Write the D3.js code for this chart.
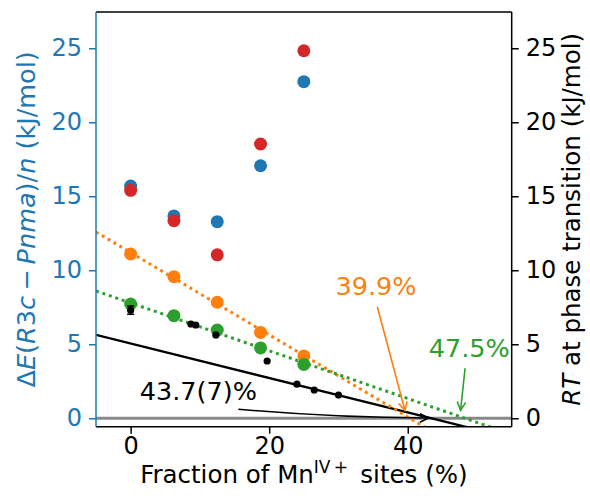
<!DOCTYPE html>
<html><head><meta charset="utf-8">
<script src="https://cdn.jsdelivr.net/npm/d3@7"></script>
<style>body{margin:0;background:#fff} svg{display:block} text{font-family:"DejaVu Sans",sans-serif}</style>
</head><body><svg id="c" width="590" height="498"></svg>
<script>
// ---- data ----
const sites = [0, 6.25, 12.5, 18.75, 25];
const blueVals = [15.69, 13.67, 13.28, 17.06, 22.74];
const redVals = [15.40, 13.35, 11.04, 18.53, 24.83];
const orangeVals = [11.10, 9.57, 7.84, 5.80, 4.21];
const greenVals = [7.72, 6.93, 5.96, 4.75, 3.64];
const rtX = [0, 8.7, 9.4, 12.3, 19.7, 24.0, 26.5, 30.0];
const rtVals = [7.30, 6.37, 6.30, 5.63, 3.87, 2.30, 1.91, 1.57];
const rtErr = [0.28, 0, 0, 0, 0, 0, 0, 0];
const fitX = [-5, 55];
const blackFit = [5.63, -1.35];
const orangeFit = [12.59, -4.09];
const greenFit = [8.60, -1.09];
const xTicks = [0, 20, 40];
const yTicks = [0, 5, 10, 15, 20, 25];
const annoLabels = ["39.9%", "47.5%", "43.7(7)%"];
const annoTextPos = [[35.42, 8.33], [48.87, 4.14], [9.77, 1.24]];
const annoStart = [[35.6, 7.54], [48.27, 3.38], [15.55, 0.61]];
const annoTarget = [[39.9, 0], [47.5, 0], [43.7, 0]];

// ---- layout ----
const C = {blue:"#1f77b4", orange:"#ff7f0e", green:"#2ca02c", red:"#d62728"};
const L = 96, R = 511.7, T = 12, B = 426.7;
const svg = d3.select("#c");
const x = d3.scaleLinear().domain([-5, 55]).range([L, R]);
const y = d3.scaleLinear().domain([-0.57, 27.45]).range([B, T]);

svg.append("defs").append("clipPath").attr("id","clip")
  .append("rect").attr("x",L).attr("y",T).attr("width",R-L).attr("height",B-T);
const plot = svg.append("g").attr("clip-path","url(#clip)");

// zero line
plot.append("line").attr("x1",L).attr("x2",R).attr("y1",y(0)).attr("y2",y(0))
  .attr("stroke","#888").attr("stroke-width",3);

// fit lines
const lineGen = d3.line().x(d=>x(d[0])).y(d=>y(d[1]));
function fit(vals){ return fitX.map((v,i)=>[v, vals[i]]); }
plot.append("path").attr("d", lineGen(fit(blackFit))).attr("fill","none")
  .attr("stroke","#000").attr("stroke-width",2.3);
plot.append("path").attr("d", lineGen(fit(orangeFit))).attr("fill","none")
  .attr("stroke",C.orange).attr("stroke-width",3).attr("stroke-dasharray","3 3.8");
plot.append("path").attr("d", lineGen(fit(greenFit))).attr("fill","none")
  .attr("stroke",C.green).attr("stroke-width",3).attr("stroke-dasharray","3 3.8");

// scatter
function dots(vals, col, r){
  plot.append("g").selectAll("circle").data(vals).join("circle")
    .attr("cx",(d,i)=>x(sites[i])).attr("cy",d=>y(d)).attr("r",r).attr("fill",col);
}
dots(blueVals, C.blue, 6.5);
dots(redVals, C.red, 6.5);
dots(orangeVals, C.orange, 6.5);
dots(greenVals, C.green, 6.5);

// black RT points with error bars
const rt = plot.append("g");
rtVals.forEach((v,i)=>{
  if (rtErr[i] > 0){
    const g = rt.append("g").attr("stroke","#000").attr("stroke-width",1.5);
    g.append("line").attr("x1",x(rtX[i])).attr("x2",x(rtX[i])).attr("y1",y(v-rtErr[i])).attr("y2",y(v+rtErr[i]));
    [v-rtErr[i], v+rtErr[i]].forEach(e=>g.append("line").attr("x1",x(rtX[i])-3.5).attr("x2",x(rtX[i])+3.5).attr("y1",y(e)).attr("y2",y(e)));
  }
});
rt.selectAll("circle").data(rtVals).join("circle")
  .attr("cx",(d,i)=>x(rtX[i])).attr("cy",d=>y(d)).attr("r",3.6).attr("fill","#000");

// annotations
const annoColors = [C.orange, C.green, "#000"];
function head(g, tx, ty, ang, col){
  const Lh = 9.5, a = 27*Math.PI/180;
  const p1 = [tx - Lh*Math.cos(ang-a), ty - Lh*Math.sin(ang-a)];
  const p2 = [tx - Lh*Math.cos(ang+a), ty - Lh*Math.sin(ang+a)];
  g.append("path").attr("d",`M${p1[0]},${p1[1]}L${tx},${ty}L${p2[0]},${p2[1]}`)
    .attr("fill","none").attr("stroke",col).attr("stroke-width",1.6);
}
annoLabels.forEach((lab,i)=>{
  const col = annoColors[i];
  const g = svg.append("g");
  g.append("text").attr("x",x(annoTextPos[i][0])).attr("y",y(annoTextPos[i][1]))
    .attr("text-anchor","middle").attr("font-size",25.5).attr("fill",col).text(lab);
  const sx = x(annoStart[i][0]), sy = y(annoStart[i][1]);
  const tx0 = x(annoTarget[i][0]), ty0 = y(annoTarget[i][1]);
  if (i < 2){
    const ang = Math.atan2(ty0-sy, tx0-sx);
    const tx = tx0 - 8*Math.cos(ang), ty = ty0 - 8*Math.sin(ang);
    g.append("line").attr("x1",sx).attr("y1",sy).attr("x2",tx).attr("y2",ty)
      .attr("stroke",col).attr("stroke-width",1.6);
    head(g, tx, ty, ang, col);
  } else {
    const ang0 = Math.atan2(ty0-sy, tx0-sx);
    const tx = tx0 - 5*Math.cos(ang0), ty = ty0 - 5*Math.sin(ang0);
    const mx = (sx+tx)/2, my = (sy+ty)/2;
    const dx = tx-sx, dy = ty-sy, len = Math.hypot(dx,dy);
    const cx = mx - dy/len*(-4), cy = my + dx/len*4;
    g.append("path").attr("d",`M${sx},${sy}Q${cx},${cy} ${tx},${ty}`)
      .attr("fill","none").attr("stroke",col).attr("stroke-width",1.6);
    head(g, tx, ty, Math.atan2(ty-cy, tx-cx), col);
  }
});

// axes
function styleAxis(g, col){
  g.select(".domain").remove();
  g.selectAll(".tick line").attr("stroke",col).attr("stroke-width",1.5);
  g.selectAll(".tick text").attr("fill",col).attr("font-size",24)
    .attr("font-family","DejaVu Sans");
}
const ax = svg.append("g").attr("transform",`translate(0,${B})`)
  .call(d3.axisBottom(x).tickValues(xTicks).tickSize(7).tickPadding(3).tickFormat(d3.format("d")));
styleAxis(ax, "#000");
const ayl = svg.append("g").attr("transform",`translate(${L},0)`)
  .call(d3.axisLeft(y).tickValues(yTicks).tickSize(7).tickPadding(7).tickFormat(d3.format("d")));
styleAxis(ayl, C.blue);
const ayr = svg.append("g").attr("transform",`translate(${R},0)`)
  .call(d3.axisRight(y).tickValues(yTicks).tickSize(7).tickPadding(7).tickFormat(d3.format("d")));
styleAxis(ayr, "#000");

// spines
const sp = svg.append("g").attr("stroke-width",1.5).attr("fill","none");
sp.append("line").attr("x1",L).attr("x2",R).attr("y1",T).attr("y2",T).attr("stroke","#000");
sp.append("line").attr("x1",L).attr("x2",R).attr("y1",B).attr("y2",B).attr("stroke","#000");
sp.append("line").attr("x1",R).attr("x2",R).attr("y1",T).attr("y2",B).attr("stroke","#000");
sp.append("line").attr("x1",L).attr("x2",L).attr("y1",T).attr("y2",B).attr("stroke",C.blue);

// axis labels
const xl = svg.append("text").attr("x",(L+R)/2).attr("y",483).attr("text-anchor","middle")
  .attr("font-size",24.5).attr("fill","#000");
xl.append("tspan").text("Fraction of Mn");
xl.append("tspan").attr("font-size",17).attr("dy",-10).text("IV\u2009+");
xl.append("tspan").attr("dy",10).text("\u2002sites (%)");

const yl = svg.append("text").attr("transform",`translate(35,${(T+B)/2}) rotate(-90)`)
  .attr("text-anchor","middle").attr("font-size",25.5).attr("fill",C.blue);
[["\u0394",0],["E",1],["(",0],["R",1],["3",0],["c",1],["\u2009\u2212\u2009",0],["Pnma",1],[")/",0],["n",1],[" (kJ/mol)",0]]
  .forEach(([t,it])=>yl.append("tspan").attr("font-style",it?"italic":"normal").text(t));

const yr = svg.append("text").attr("transform",`translate(580,${(T+B)/2}) rotate(-90)`)
  .attr("text-anchor","middle").attr("font-size",24.5).attr("fill","#000");
yr.append("tspan").attr("font-style","italic").text("RT");
yr.append("tspan").text(" at phase transition (kJ/mol)");
</script></body></html>
